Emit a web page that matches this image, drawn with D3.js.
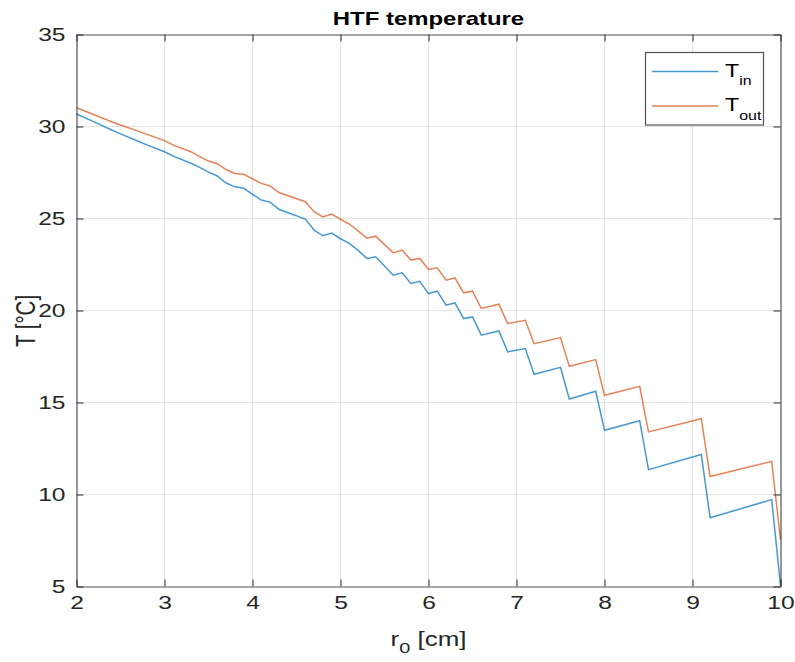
<!DOCTYPE html>
<html>
<head>
<meta charset="utf-8">
<script src="https://cdn.jsdelivr.net/npm/d3@7"></script>
<style>
  html, body { margin: 0; padding: 0; background: #fff; }
  svg { display: block; font-family: "Liberation Sans", Arial, Helvetica, sans-serif; }
</style>
</head>
<body>
<svg id="chart" width="795" height="662"></svg>
<script>
// Outer radius r0 [cm]
const r0 = [2.0, 2.2, 2.4, 2.5, 2.7, 2.8, 3.0, 3.1, 3.3, 3.4, 3.5, 3.6, 3.7, 3.8, 3.9,
  4.1, 4.2, 4.3, 4.6, 4.7, 4.8, 4.9, 5.0, 5.1, 5.2, 5.3, 5.4, 5.6, 5.7, 5.8, 5.9,
  6.0, 6.1, 6.2, 6.3, 6.4, 6.5, 6.6, 6.8, 6.9, 7.1, 7.2, 7.5, 7.6, 7.9, 8.0, 8.4,
  8.5, 9.1, 9.2, 9.9, 10.0];

// HTF inlet temperature [°C]
const tIn = [30.68, 30.25, 29.81, 29.60, 29.20, 29.00, 28.63, 28.39, 28.00, 27.78, 27.52, 27.31, 26.93, 26.72, 26.64,
  26.00, 25.89, 25.50, 24.97, 24.37, 24.06, 24.21, 23.90, 23.65, 23.27, 22.83, 22.92, 21.92, 22.05, 21.47, 21.59,
  20.92, 21.05, 20.29, 20.41, 19.56, 19.65, 18.66, 18.89, 17.75, 17.93, 16.53, 16.91, 15.19, 15.61, 13.49, 14.01,
  11.35, 12.17, 8.74, 9.72, 5.05];

// HTF outlet temperature [°C]
const tOut = [31.02, 30.64, 30.26, 30.08, 29.75, 29.57, 29.23, 28.99, 28.63, 28.36, 28.12, 27.98, 27.66, 27.45, 27.40,
  26.91, 26.77, 26.41, 25.91, 25.37, 25.09, 25.24, 24.96, 24.70, 24.33, 23.93, 24.04, 23.13, 23.28, 22.74, 22.83,
  22.23, 22.32, 21.65, 21.77, 20.96, 21.05, 20.11, 20.34, 19.29, 19.47, 18.20, 18.53, 16.97, 17.33, 15.39, 15.88,
  13.40, 14.12, 10.98, 11.80, 7.54];

const xTicks = [2, 3, 4, 5, 6, 7, 8, 9, 10];
const yTicks = [5, 10, 15, 20, 25, 30, 35];

const series = [
  { name: "T", sub: "in", values: tIn, color: "#0072BD" },
  { name: "T", sub: "out", values: tOut, color: "#D95319" }
];

const svg = d3.select("#chart");
const m = { left: 76.5, right: 780.5, top: 34.5, bottom: 586.5 };
// text in this figure is set wide: glyphs are stretched horizontally
const SX = 1.33;

const x = d3.scaleLinear().domain([2, 10]).range([m.left, m.right]);
const y = d3.scaleLinear().domain([5, 35]).range([m.bottom, m.top]);

const axisColor = "#262626";

// grid
const grid = svg.append("g");
grid.selectAll(".gx").data(xTicks.slice(1, -1)).join("line")
  .attr("x1", d => x(d)).attr("x2", d => x(d))
  .attr("y1", m.top).attr("y2", m.bottom)
  .attr("stroke", "#262626").attr("stroke-opacity", 0.13).attr("stroke-width", 1.2);
grid.selectAll(".gy").data(yTicks.slice(1, -1)).join("line")
  .attr("y1", d => y(d)).attr("y2", d => y(d))
  .attr("x1", m.left).attr("x2", m.right)
  .attr("stroke", "#262626").attr("stroke-opacity", 0.13).attr("stroke-width", 1.2);

// data lines
const line = d3.line().x((d, i) => x(r0[i])).y(d => y(d));
svg.append("g").selectAll("path").data(series).join("path")
  .attr("d", s => line(s.values))
  .attr("fill", "none")
  .attr("stroke", s => s.color)
  .attr("stroke-width", 1.5)
  .attr("stroke-opacity", 0.72)
  .attr("stroke-linejoin", "miter");

// axes (box with inward ticks on all sides)
const tickLen = 7;
const padX = 9, padY = 11;
const xAxis = d3.axisBottom(x).tickValues(xTicks).tickSizeInner(-tickLen).tickSizeOuter(0).tickPadding(padX);
const yAxis = d3.axisLeft(y).tickValues(yTicks).tickSizeInner(-tickLen).tickSizeOuter(0).tickPadding(padY);
const xAxisTop = d3.axisTop(x).tickValues(xTicks).tickSizeInner(-tickLen).tickSizeOuter(0).tickFormat("");
const yAxisRight = d3.axisRight(y).tickValues(yTicks).tickSizeInner(-tickLen).tickSizeOuter(0).tickFormat("");

function styleAxis(g) {
  g.select(".domain").attr("stroke", axisColor).attr("stroke-opacity", 0.8).attr("stroke-width", 1.2);
  g.selectAll(".tick line").attr("stroke", axisColor).attr("stroke-opacity", 0.8).attr("stroke-width", 1.2);
  g.selectAll(".tick text").attr("fill", axisColor).style("font-size", "18.5px")
    .style("font-family", "'Liberation Sans', Arial, sans-serif");
}

svg.append("g").attr("transform", `translate(0,${m.bottom})`).call(xAxis).call(styleAxis)
  .selectAll(".tick text").attr("transform", `scale(${SX},1)`);
svg.append("g").attr("transform", `translate(${m.left},0)`).call(yAxis).call(styleAxis)
  .selectAll(".tick text").attr("x", -padY / SX).attr("transform", `scale(${SX},1)`);
svg.append("g").attr("transform", `translate(0,${m.top})`).call(xAxisTop).call(styleAxis);
svg.append("g").attr("transform", `translate(${m.right},0)`).call(yAxisRight).call(styleAxis);

// wide text helper: anchored at (px, py), stretched horizontally
function wideText(px, py, extra = "") {
  return svg.append("g")
    .attr("transform", `translate(${px},${py}) scale(${SX},1) ${extra}`)
    .append("text");
}

// title
wideText((m.left + m.right) / 2, 25)
  .attr("text-anchor", "middle")
  .attr("fill", "#000")
  .style("font-size", "18px").style("font-weight", "bold")
  .text("HTF temperature");

// axis labels
const xl = wideText((m.left + m.right) / 2, 646)
  .attr("text-anchor", "middle").attr("fill", axisColor)
  .style("font-size", "19.5px");
xl.append("tspan").text("r");
xl.append("tspan").attr("dy", 7).style("font-size", "15px").text("0");
xl.append("tspan").attr("dy", -7).text(" [cm]");

wideText(35, 321, "rotate(-90)")
  .attr("text-anchor", "middle").attr("fill", axisColor)
  .style("font-size", "20.5px")
  .text("T [°C]");

// legend
const lg = svg.append("g");
lg.append("rect")
  .attr("x", 645.5).attr("y", 52.5).attr("width", 118).attr("height", 72.5)
  .attr("fill", "#fff").attr("stroke", axisColor).attr("stroke-opacity", 0.8).attr("stroke-width", 1.2);
series.forEach((s, i) => {
  const yy = 71.5 + i * 34.5;
  lg.append("line")
    .attr("x1", 652).attr("x2", 718).attr("y1", yy).attr("y2", yy)
    .attr("stroke", s.color).attr("stroke-width", 1.5).attr("stroke-opacity", 0.72);
  const t = lg.append("g")
    .attr("transform", `translate(725,${yy + 5}) scale(${SX},1)`)
    .append("text").attr("fill", "#000").style("font-size", "17.5px");
  t.append("tspan").text(s.name);
  t.append("tspan").attr("dy", 8.5).style("font-size", "12px").text(s.sub);
});
</script>
</body>
</html>
